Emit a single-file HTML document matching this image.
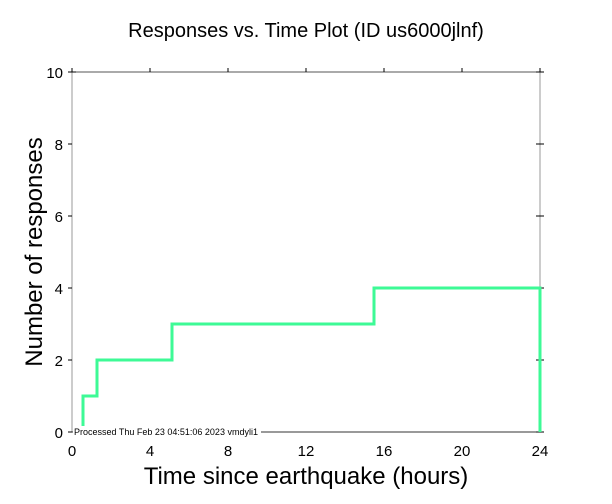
<!DOCTYPE html>
<html><head><style>body{margin:0;background:#fff}svg{display:block}text{font-family:"Liberation Sans",sans-serif}</style></head>
<body>
<svg width="612" height="504" viewBox="0 0 612 504">
<rect width="612" height="504" fill="#fff"/>
<text x="306" y="37" font-size="20" text-anchor="middle">Responses vs. Time Plot (ID us6000jlnf)</text>
<line x1="72" y1="72" x2="540" y2="72" stroke="#555" stroke-width="1"/>
<line x1="72" y1="72" x2="72" y2="432" stroke="#999" stroke-width="1"/>
<line x1="540" y1="72" x2="540" y2="432" stroke="#999" stroke-width="1"/>
<line x1="72" y1="432" x2="540" y2="432" stroke="#333" stroke-width="1"/>
<g stroke="#000" stroke-width="1">
<line x1="72" y1="68" x2="72" y2="72"/><line x1="150" y1="68" x2="150" y2="72"/><line x1="228" y1="68" x2="228" y2="72"/><line x1="306" y1="68" x2="306" y2="72"/><line x1="384" y1="68" x2="384" y2="72"/><line x1="462" y1="68" x2="462" y2="72"/><line x1="540" y1="68" x2="540" y2="72"/>
<line x1="536" y1="72" x2="544" y2="72"/><line x1="536" y1="144" x2="544" y2="144"/><line x1="536" y1="216" x2="544" y2="216"/><line x1="536" y1="288" x2="544" y2="288"/><line x1="536" y1="360" x2="544" y2="360"/><line x1="536" y1="432" x2="544" y2="432"/>
<line x1="68" y1="72" x2="76" y2="72"/><line x1="68" y1="144" x2="72" y2="144"/><line x1="68" y1="216" x2="72" y2="216"/><line x1="68" y1="288" x2="72" y2="288"/><line x1="68" y1="360" x2="72" y2="360"/><line x1="68" y1="432" x2="72" y2="432"/>
</g>
<g font-size="15" text-anchor="end">
<text x="63" y="78">10</text><text x="63" y="150">8</text><text x="63" y="222">6</text><text x="63" y="294">4</text><text x="63" y="366">2</text><text x="63" y="438">0</text>
</g>
<g font-size="15" text-anchor="middle">
<text x="72" y="456">0</text><text x="150" y="456">4</text><text x="228" y="456">8</text><text x="306" y="456">12</text><text x="384" y="456">16</text><text x="462" y="456">20</text><text x="540" y="456">24</text>
</g>
<text x="306" y="484" font-size="24" text-anchor="middle">Time since earthquake (hours)</text>
<text transform="translate(42,252) rotate(-90)" font-size="24" text-anchor="middle">Number of responses</text>
<polyline points="83,428 83,396 97,396 97,360 172,360 172,324 374,324 374,288 540,288 540,432" fill="none" stroke="#3dfa96" stroke-width="3"/>
<rect x="73" y="426" width="188" height="11" fill="#fff"/>
<text x="74" y="435" font-size="9">Processed Thu Feb 23 04:51:06 2023 vmdyli1</text>
</svg>
</body></html>
